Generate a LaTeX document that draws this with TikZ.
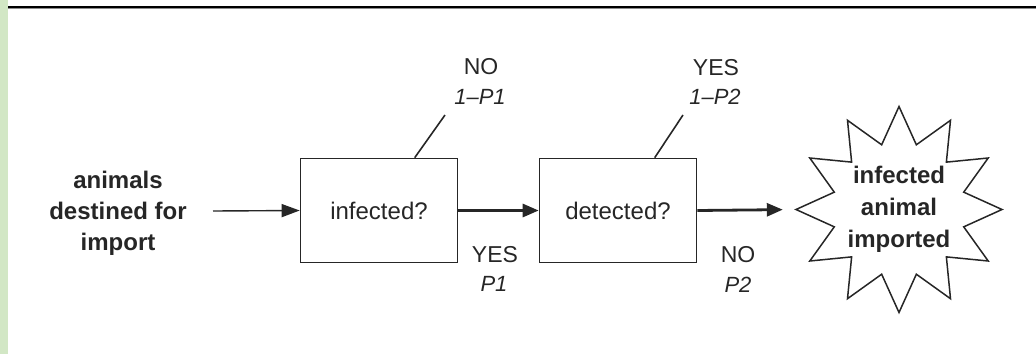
\documentclass[tikz,border=0pt]{standalone}
\usepackage{fontspec}
\setmainfont{Liberation Sans}
\usetikzlibrary{arrows.meta,calc}
\definecolor{ink}{HTML}{262626}
\definecolor{stripgreen}{HTML}{D2E7C5}
\begin{document}
\begin{tikzpicture}[x=1pt,y=-1pt,
  every node/.style={text=ink},
  decision/.style={draw=ink,line width=1.6pt,minimum width=157pt,minimum height=104pt,
    inner sep=0pt,font=\fontsize{24}{29}\selectfont},
  blocktext/.style={align=center,inner sep=0pt,font=\fontsize{24}{31}\selectfont\bfseries},
  outcome/.style={circle,minimum size=206pt,inner sep=0pt,align=center,
    font=\fontsize{24}{32}\selectfont\bfseries},
  burst/.style={draw=ink,line width=1.5pt,line join=miter},
  answer/.style={inner sep=0pt,font=\fontsize{23}{28}\selectfont},
  prob/.style={inner sep=0pt,font=\fontsize{22}{28}\selectfont\itshape},
  thinflow/.style={draw=ink,line width=1.4pt,-{Triangle[length=18pt,width=13pt]}},
  thickflow/.style={draw=ink,line width=2.8pt,-{Triangle[length=16pt,width=13pt]}},
  branch/.style={draw=ink,line width=1.6pt}
]
\useasboundingbox (0,0) rectangle (1036,354);

% page decoration: green margin strip and top rule
\fill[stripgreen] (0,0) rectangle (8,354);
\draw[line width=2pt,black] (8,7) -- (1036,7);
\draw[line width=1pt,black!45] (8,8.8) -- (1036,8.8);

% flow elements
\node[blocktext] (src) at (118,213) {animals\\destined for\\import};
\node[decision] (box1) at (379,210.5) {infected?};
\node[decision] (box2) at (618,210.5) {detected?};
\node[outcome] (star) at (899,209.5) {infected\\animal\\imported};

% twelve-pointed burst around the outcome
\draw[burst] ($(star.center)+(90:103)$)
  \foreach \k [evaluate=\k as \r using {mod(\k,2)==0 ? 103 : 67}] in {1,...,23}
    { -- ($(star.center)+({90+15*\k}:\r)$) } -- cycle;

\coordinate (in) at (213,211);
\draw[thinflow] (in) -- (box1.west);
\draw[thickflow] (box1.east) -- (box2.west);
\draw[thickflow,shorten >=13pt] (box2.east) -- (star.west);

% branch labels above the boxes
\node[answer] (no1) at (481,67) {NO};
\node[prob] (q1) at (480,97) {1–P1};
\coordinate (t1) at (445,115);
\draw[branch] ([xshift=115pt]box1.north west) -- (t1);

\node[answer] (yes2) at (716,68) {YES};
\node[prob] (q2) at (715,97) {1–P2};
\coordinate (t2) at (683,115);
\draw[branch] ([xshift=116pt]box2.north west) -- (t2);

% branch labels below the arrows
\node[answer] (yes1) at (495,255) {YES};
\node[prob] (p1) at (494,284) {P1};
\node[answer] (no2) at (738,255) {NO};
\node[prob] (p2) at (738,285) {P2};
\end{tikzpicture}
\end{document}
